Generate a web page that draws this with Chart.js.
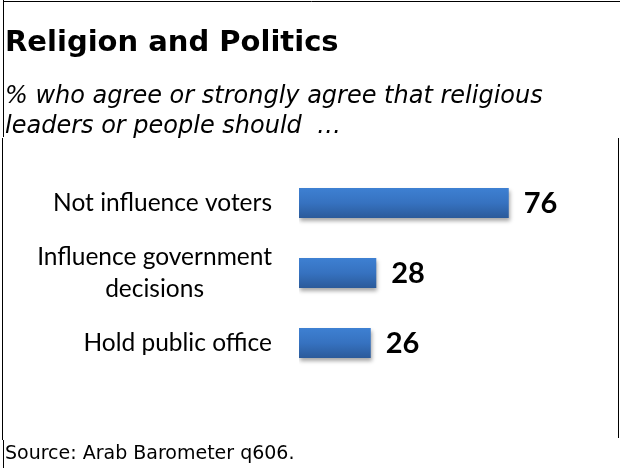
<!DOCTYPE html>
<html>
<head>
<meta charset="utf-8">
<script src="https://cdn.jsdelivr.net/npm/chart.js@4/dist/chart.umd.min.js"></script>
<style>
  html, body { margin: 0; padding: 0; background: #ffffff; }
  #wrap { width: 620px; height: 468px; position: relative; }
</style>
</head>
<body>
<div id="wrap"><canvas id="chart" width="620" height="468"></canvas></div>
<script>
// Survey items (one label may span two lines)
const categories = [
  ["Not influence voters"],
  ["Influence government", "decisions"],
  ["Hold public office"]
];
// Share agreeing, in percent
const agreeValues = [76, 28, 26];

const titleText = "Religion and Politics";
const subtitleLines = [
  "% who agree or strongly agree that religious",
  "leaders or people should  \u2026"
];
const sourceText = "Source: Arab Barometer q606.";

// Vertical blue gradient for each bar, aligned with its band on the y scale
function barGradient(context) {
  const chart = context.chart;
  const yScale = chart.scales.y;
  if (!yScale || context.dataIndex === undefined) return '#3470bd';
  const c = yScale.getPixelForValue(context.dataIndex);
  if (!Number.isFinite(c)) return '#3470bd';
  const half = 15;
  const g = chart.ctx.createLinearGradient(0, c - half, 0, c + half);
  g.addColorStop(0, '#3e80d2');
  g.addColorStop(0.5, '#3672c0');
  g.addColorStop(1, '#2b5a9a');
  return g;
}

// Soft drop shadow under the bars
const barShadow = {
  id: 'barShadow',
  beforeDatasetsDraw(chart) {
    const ctx = chart.ctx;
    ctx.save();
    ctx.shadowColor = 'rgba(0,0,0,0.35)';
    ctx.shadowBlur = 4;
    ctx.shadowOffsetX = 1;
    ctx.shadowOffsetY = 3;
  },
  afterDatasetsDraw(chart) {
    chart.ctx.restore();
  }
};

// Category names left of the bars, value numbers after each bar
const labelsAndValues = {
  id: 'labelsAndValues',
  afterDatasetsDraw(chart) {
    const ctx = chart.ctx;
    const yScale = chart.scales.y;
    const meta = chart.getDatasetMeta(0);
    ctx.save();
    ctx.fillStyle = '#000000';

    // category labels: block right-aligned, lines centred within the block
    ctx.font = '24.5px Lato';
    ctx.textBaseline = 'middle';
    const rightEdge = chart.chartArea.left - 27;
    const lineH = 32;
    categories.forEach((lines, i) => {
      const cy = yScale.getPixelForValue(i);
      const widest = Math.max(...lines.map(l => ctx.measureText(l).width));
      const centreX = rightEdge - widest / 2;
      ctx.textAlign = 'center';
      lines.forEach((line, k) => {
        const y = cy + (k - (lines.length - 1) / 2) * lineH;
        ctx.fillText(line, centreX, y);
      });
    });

    // value labels
    ctx.font = 'bold 29px Lato';
    ctx.textAlign = 'left';
    meta.data.forEach((bar, i) => {
      ctx.fillText(String(agreeValues[i]), bar.x + 15, bar.y + 1);
    });
    ctx.restore();
  }
};

// Heading, subtitle, source note and the thin frame lines
const frameAndText = {
  id: 'frameAndText',
  afterDraw(chart) {
    const ctx = chart.ctx;
    ctx.save();
    ctx.fillStyle = '#000000';
    ctx.textAlign = 'left';
    ctx.textBaseline = 'alphabetic';

    ctx.font = 'bold 29px "DejaVu Sans"';
    ctx.fillText(titleText, 5, 51);

    ctx.font = 'oblique 24px "DejaVu Sans"';
    ctx.fillText(subtitleLines[0], 5, 103);
    ctx.fillText(subtitleLines[1], 5, 133);

    ctx.font = '19px "DejaVu Sans"';
    ctx.fillText(sourceText, 5, 459);

    ctx.strokeStyle = '#000000';
    ctx.lineWidth = 1;
    ctx.beginPath();
    // heading box
    ctx.moveTo(3, 1.5); ctx.lineTo(620, 1.5);
    ctx.moveTo(3.5, 0); ctx.lineTo(3.5, 137);
    // chart box
    ctx.moveTo(2.5, 138); ctx.lineTo(2.5, 440);
    ctx.moveTo(618.5, 138); ctx.lineTo(618.5, 438);
    // source box
    ctx.moveTo(3.5, 440); ctx.lineTo(3.5, 468);
    ctx.stroke();
    ctx.restore();
  }
};

new Chart(document.getElementById('chart'), {
  type: 'bar',
  data: {
    labels: categories,
    datasets: [{
      data: agreeValues,
      backgroundColor: barGradient,
      borderWidth: 0,
      barPercentage: 1,
      categoryPercentage: 0.43
    }]
  },
  options: {
    indexAxis: 'y',
    responsive: false,
    animation: false,
    devicePixelRatio: 1,
    layout: { padding: { left: 299, right: 45, top: 168, bottom: 90 } },
    scales: {
      x: { display: false, min: 0, max: 100 },
      y: { display: false }
    },
    plugins: {
      legend: { display: false },
      tooltip: { enabled: false },
      title: { display: false }
    }
  },
  plugins: [barShadow, labelsAndValues, frameAndText]
});
</script>
</body>
</html>
